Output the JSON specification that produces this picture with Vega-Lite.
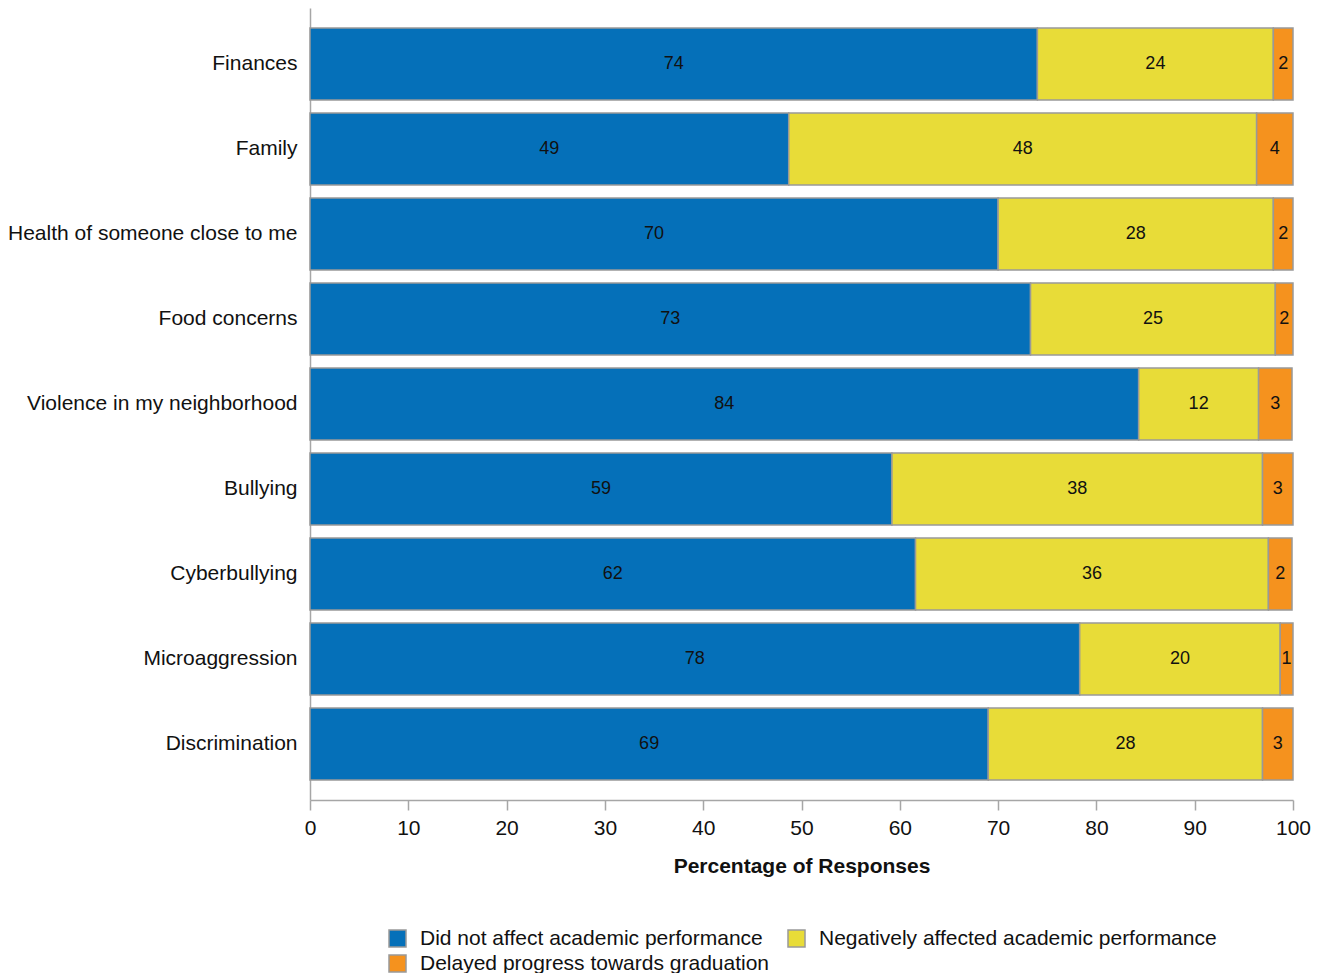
{
  "$schema": "https://vega.github.io/schema/vega-lite/v6.json",
  "autosize": "none",
  "width": 983,
  "height": 792,
  "padding": {"left": 310, "top": 8, "right": 30, "bottom": 173},
  "background": "white",
  "config": {
    "font": "Liberation Sans",
    "view": {"stroke": null}
  },
  "data": {
    "values": [
      {"item": "Finances", "response": "Did not affect academic performance", "rank": 1, "value": 74.0},
      {"item": "Finances", "response": "Negatively affected academic performance", "rank": 2, "value": 24.0},
      {"item": "Finances", "response": "Delayed progress towards graduation", "rank": 3, "value": 2.0},
      {"item": "Family", "response": "Did not affect academic performance", "rank": 1, "value": 48.7},
      {"item": "Family", "response": "Negatively affected academic performance", "rank": 2, "value": 47.6},
      {"item": "Family", "response": "Delayed progress towards graduation", "rank": 3, "value": 3.7},
      {"item": "Health of someone close to me", "response": "Did not affect academic performance", "rank": 1, "value": 70.0},
      {"item": "Health of someone close to me", "response": "Negatively affected academic performance", "rank": 2, "value": 28.0},
      {"item": "Health of someone close to me", "response": "Delayed progress towards graduation", "rank": 3, "value": 2.0},
      {"item": "Food concerns", "response": "Did not affect academic performance", "rank": 1, "value": 73.3},
      {"item": "Food concerns", "response": "Negatively affected academic performance", "rank": 2, "value": 24.9},
      {"item": "Food concerns", "response": "Delayed progress towards graduation", "rank": 3, "value": 1.8},
      {"item": "Violence in my neighborhood", "response": "Did not affect academic performance", "rank": 1, "value": 84.3},
      {"item": "Violence in my neighborhood", "response": "Negatively affected academic performance", "rank": 2, "value": 12.2},
      {"item": "Violence in my neighborhood", "response": "Delayed progress towards graduation", "rank": 3, "value": 3.4},
      {"item": "Bullying", "response": "Did not affect academic performance", "rank": 1, "value": 59.2},
      {"item": "Bullying", "response": "Negatively affected academic performance", "rank": 2, "value": 37.7},
      {"item": "Bullying", "response": "Delayed progress towards graduation", "rank": 3, "value": 3.1},
      {"item": "Cyberbullying", "response": "Did not affect academic performance", "rank": 1, "value": 61.6},
      {"item": "Cyberbullying", "response": "Negatively affected academic performance", "rank": 2, "value": 35.9},
      {"item": "Cyberbullying", "response": "Delayed progress towards graduation", "rank": 3, "value": 2.4},
      {"item": "Microaggression", "response": "Did not affect academic performance", "rank": 1, "value": 78.3},
      {"item": "Microaggression", "response": "Negatively affected academic performance", "rank": 2, "value": 20.4},
      {"item": "Microaggression", "response": "Delayed progress towards graduation", "rank": 3, "value": 1.3},
      {"item": "Discrimination", "response": "Did not affect academic performance", "rank": 1, "value": 69.0},
      {"item": "Discrimination", "response": "Negatively affected academic performance", "rank": 2, "value": 27.9},
      {"item": "Discrimination", "response": "Delayed progress towards graduation", "rank": 3, "value": 3.1}
    ]
  },
  "transform": [
    {"stack": "value", "groupby": ["item"], "sort": [{"field": "rank", "order": "ascending"}], "as": ["lo", "hi"]}
  ],
  "encoding": {
    "y": {
      "field": "item",
      "type": "nominal",
      "sort": null,
      "scale": {"paddingInner": 0.153, "paddingOuter": 0.235},
      "axis": {
        "title": null,
        "domainColor": "#a6a6a6",
        "domainWidth": 1.5,
        "ticks": false,
        "labelFontSize": 21,
        "labelColor": "#111111",
        "labelPadding": 13,
        "labelLimit": 400
      }
    }
  },
  "layer": [
    {
      "mark": {"type": "bar", "stroke": "#999999", "strokeWidth": 1.5},
      "encoding": {
        "x": {
          "field": "lo",
          "type": "quantitative",
          "scale": {"domain": [0, 100], "nice": false},
          "axis": {
            "title": "Percentage of Responses",
            "titleFontSize": 21,
            "titleFontWeight": "bold",
            "titleColor": "#111111",
            "titlePadding": 17,
            "values": [0, 10, 20, 30, 40, 50, 60, 70, 80, 90, 100],
            "grid": false,
            "domainColor": "#a6a6a6",
            "domainWidth": 1.5,
            "tickColor": "#a6a6a6",
            "tickWidth": 1.5,
            "tickSize": 10,
            "labelFontSize": 21,
            "labelColor": "#111111",
            "labelPadding": 7,
            "labelFlush": false
          }
        },
        "x2": {"field": "hi"},
        "color": {
          "field": "response",
          "type": "nominal",
          "scale": {
            "domain": [
              "Did not affect academic performance",
              "Negatively affected academic performance",
              "Delayed progress towards graduation"
            ],
            "range": ["#0570b9", "#e8dc38", "#f5921e"]
          },
          "legend": {
            "title": null,
            "orient": "none",
            "legendX": 77,
            "legendY": 920,
            "columns": 2,
            "direction": "horizontal",
            "symbolType": "square",
            "symbolSize": 289,
            "symbolStrokeColor": "#999999",
            "symbolStrokeWidth": 1.5,
            "symbolOpacity": 1,
            "labelFontSize": 21,
            "labelColor": "#111111",
            "labelOffset": 12,
            "labelLimit": 500,
            "columnPadding": 15,
            "rowPadding": 2
          }
        }
      }
    },
    {
      "transform": [
        {"fold": ["lo", "hi"], "as": ["edge", "pos"]}
      ],
      "mark": {"type": "text", "fontSize": 18, "color": "#111111"},
      "encoding": {
        "x": {"field": "pos", "aggregate": "mean", "type": "quantitative"},
        "detail": {"field": "response", "type": "nominal"},
        "text": {"field": "value", "aggregate": "max", "type": "quantitative", "format": ".0f"}
      }
    }
  ]
}
